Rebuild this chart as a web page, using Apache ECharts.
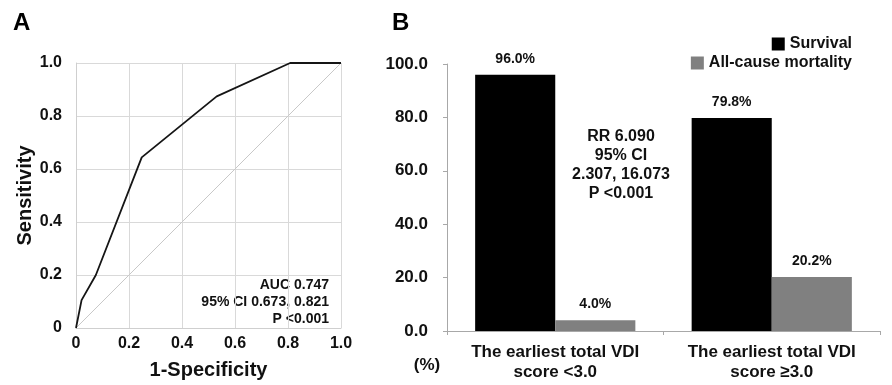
<!DOCTYPE html>
<html>
<head>
<meta charset="utf-8">
<script src="https://cdn.jsdelivr.net/npm/echarts@6/dist/echarts.min.js"></script>
<style>
html,body{margin:0;padding:0;background:#fff;}
#chart{width:892px;height:385px;}
</style>
</head>
<body>
<div id="chart"></div>
<script>
// ---- Data: Panel A (ROC curve) ----
var rocFpr = [0, 0.021, 0.075, 0.248, 0.531, 0.808, 1.0];
var rocTpr = [0, 0.105, 0.20, 0.644, 0.874, 1.0, 1.0];
var refLine = [[0, 0], [1, 1]];
var aTicks = [0, 0.2, 0.4, 0.6, 0.8, 1.0];
var aucText = ['AUC 0.747', '95% CI 0.673, 0.821', 'P <0.001'];

// ---- Data: Panel B (bars) ----
var categories = ['The earliest total VDI\nscore <3.0', 'The earliest total VDI\nscore \u22653.0'];
var survival = [96.0, 79.8];
var mortality = [4.0, 20.2];
var seriesNames = ['Survival', 'All-cause mortality'];
var rrText = ['RR 6.090', '95% CI', '2.307, 16.073', 'P <0.001'];

var FONT = '"Liberation Sans", Arial, Helvetica, sans-serif';
var TXT = '#111';

var rocData = rocFpr.map(function (x, i) { return [x, rocTpr[i]]; });

var chart = echarts.init(document.getElementById('chart'));
chart.setOption({
  backgroundColor: '#fff',
  animation: false,
  textStyle: { fontFamily: FONT },
  grid: [
    { left: 76, top: 63, width: 265, height: 265 },
    { left: 447, top: 64, width: 433, height: 267 }
  ],
  legend: [
    {
      data: [seriesNames[0]], right: 40, top: 36, padding: 0,
      itemWidth: 13, itemHeight: 13, icon: 'rect',
      textStyle: { fontSize: 16, fontWeight: 'bold', color: TXT, fontFamily: FONT }
    },
    {
      data: [seriesNames[1]], right: 40, top: 55, padding: 0,
      itemWidth: 13, itemHeight: 13, icon: 'rect',
      textStyle: { fontSize: 16, fontWeight: 'bold', color: TXT, fontFamily: FONT }
    }
  ],
  xAxis: [
    {
      gridIndex: 0, type: 'value', min: 0, max: 1, interval: 0.2,
      name: '1-Specificity', nameLocation: 'middle', nameGap: 32,
      nameTextStyle: { fontSize: 20, fontWeight: 'bold', color: TXT, fontFamily: FONT },
      axisLine: { show: true, lineStyle: { color: '#cfcfcf', width: 1 } },
      axisTick: { show: false },
      splitLine: { show: true, lineStyle: { color: '#d9d9d9', width: 1 } },
      axisLabel: {
        margin: 8, fontSize: 16, fontWeight: 'bold', color: TXT, fontFamily: FONT,
        formatter: function (v) { return v === 0 ? '0' : v.toFixed(1); }
      }
    },
    {
      gridIndex: 1, type: 'category', data: categories,
      axisLine: { show: true, lineStyle: { color: '#a8a8a8', width: 1 } },
      axisTick: { show: true, length: 4, lineStyle: { color: '#a8a8a8' } },
      axisLabel: {
        margin: 11, fontSize: 17, fontWeight: 'bold', color: TXT, fontFamily: FONT,
        lineHeight: 20, interval: 0
      }
    }
  ],
  yAxis: [
    {
      gridIndex: 0, type: 'value', min: 0, max: 1, interval: 0.2,
      name: 'Sensitivity', nameLocation: 'middle', nameGap: 41,
      nameTextStyle: { fontSize: 20, fontWeight: 'bold', color: TXT, fontFamily: FONT },
      axisLine: { show: true, lineStyle: { color: '#cfcfcf', width: 1 } },
      axisTick: { show: false },
      splitLine: { show: true, lineStyle: { color: '#d9d9d9', width: 1 } },
      axisLabel: {
        margin: 14, fontSize: 16, fontWeight: 'bold', color: TXT, fontFamily: FONT,
        formatter: function (v) { return v === 0 ? '0' : v.toFixed(1); }
      }
    },
    {
      gridIndex: 1, type: 'value', min: 0, max: 100, interval: 20,
      axisLine: { show: true, lineStyle: { color: '#a8a8a8', width: 1 } },
      axisTick: { show: true, length: 4, lineStyle: { color: '#a8a8a8' } },
      splitLine: { show: false },
      axisLabel: {
        margin: 19, fontSize: 17, fontWeight: 'bold', color: TXT, fontFamily: FONT,
        formatter: function (v) { return v.toFixed(1); }
      }
    }
  ],
  series: [
    {
      type: 'line', xAxisIndex: 0, yAxisIndex: 0, data: refLine,
      symbol: 'none', silent: true,
      lineStyle: { color: '#c8c8c8', width: 1 }
    },
    {
      type: 'line', xAxisIndex: 0, yAxisIndex: 0, data: rocData,
      symbol: 'none',
      lineStyle: { color: '#151515', width: 1.8 }
    },
    {
      name: seriesNames[0], type: 'bar', xAxisIndex: 1, yAxisIndex: 1,
      data: survival, barGap: '0%', barCategoryGap: '26%',
      itemStyle: { color: '#000000' },
      label: {
        show: true, position: 'top', distance: 9,
        fontSize: 14, fontWeight: 'bold', color: TXT, fontFamily: FONT,
        formatter: function (p) { return p.value.toFixed(1) + '%'; }
      }
    },
    {
      name: seriesNames[1], type: 'bar', xAxisIndex: 1, yAxisIndex: 1,
      data: mortality, barGap: '0%', barCategoryGap: '26%',
      itemStyle: { color: '#808080' },
      label: {
        show: true, position: 'top', distance: 9,
        fontSize: 14, fontWeight: 'bold', color: TXT, fontFamily: FONT,
        formatter: function (p) { return p.value.toFixed(1) + '%'; }
      }
    }
  ],
  graphic: [
    {
      type: 'text', left: 13, top: 11,
      style: { text: 'A', font: 'bold 24px ' + FONT, fill: '#000' }
    },
    {
      type: 'text', left: 392, top: 11,
      style: { text: 'B', font: 'bold 24px ' + FONT, fill: '#000' }
    },
    {
      type: 'text', x: 329, y: 277,
      style: {
        text: aucText.join('\n'), font: 'bold 14px ' + FONT, fill: TXT,
        align: 'right', verticalAlign: 'top', lineHeight: 17
      }
    },
    {
      type: 'text', x: 621, y: 127,
      style: {
        text: rrText.join('\n'), font: 'bold 16px ' + FONT, fill: TXT,
        align: 'center', verticalAlign: 'top', lineHeight: 19
      }
    },
    {
      type: 'text', x: 427, y: 365,
      style: {
        text: '(%)', font: 'bold 17px ' + FONT, fill: TXT,
        align: 'center', verticalAlign: 'middle'
      }
    }
  ]
});
</script>
</body>
</html>
